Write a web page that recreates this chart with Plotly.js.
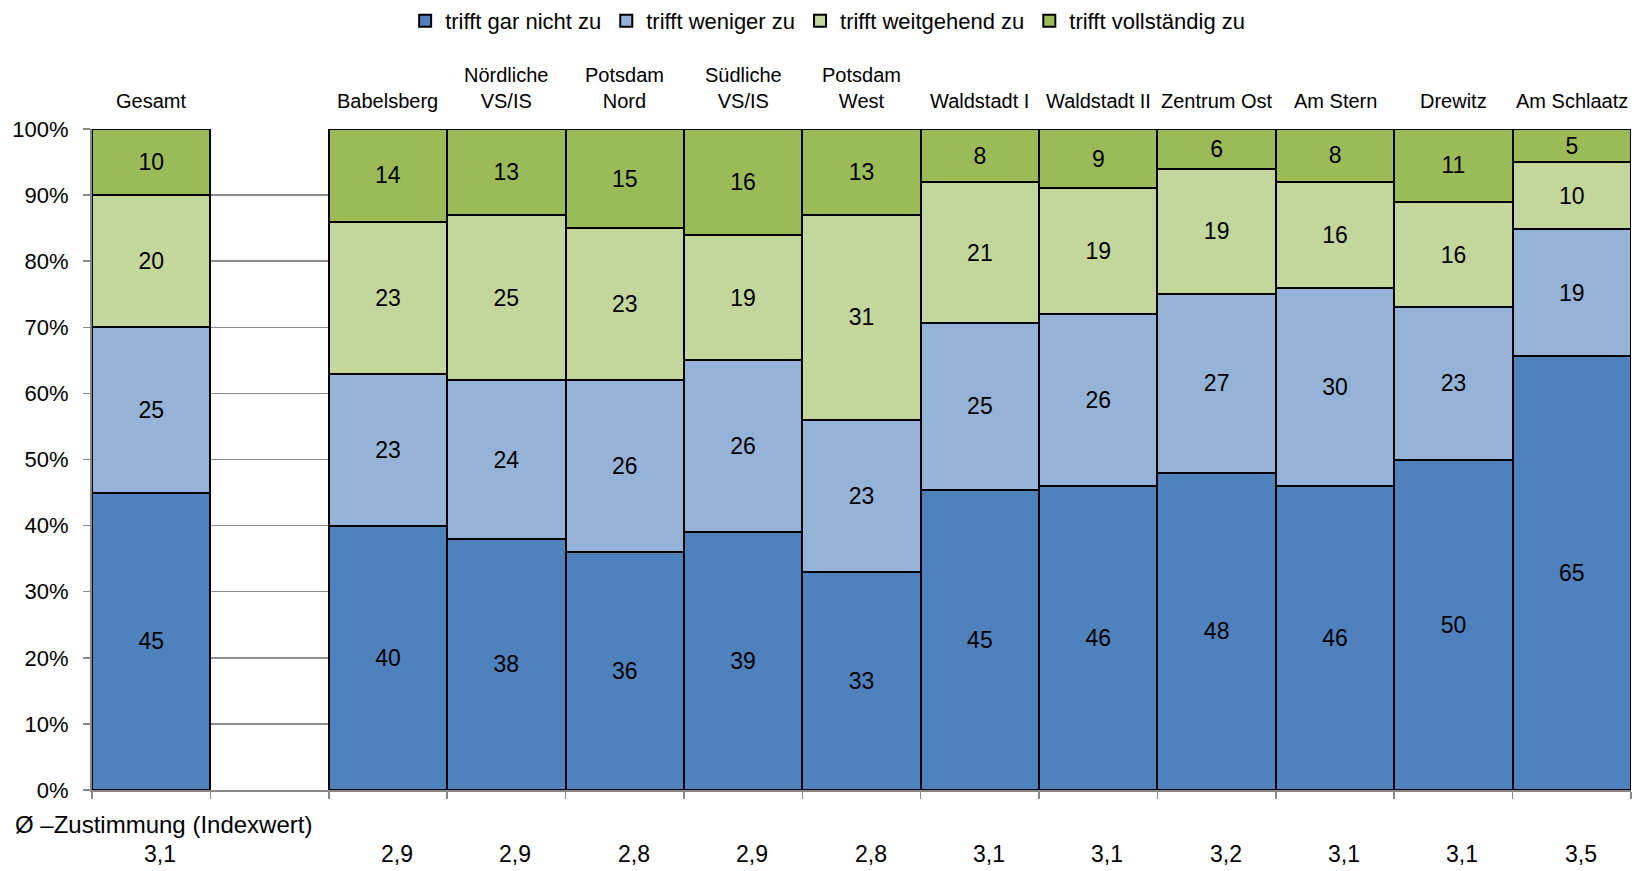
<!DOCTYPE html>
<html>
<head>
<meta charset="utf-8">
<script src="https://cdn.plot.ly/plotly-3.0.1.min.js"></script>
<style>
html,body{margin:0;padding:0;background:#fff;}
#chart{width:1643px;height:871px;}
</style>
</head>
<body>
<div id="chart"></div>
<script>
const categories = ["Gesamt", " ", "Babelsberg", "Nördliche<br>VS/IS", "Potsdam<br>Nord", "Südliche<br>VS/IS", "Potsdam<br>West", "Waldstadt I", "Waldstadt II", "Zentrum Ost", "Am Stern", "Drewitz", "Am Schlaatz"];
const seriesNames = ["trifft gar nicht zu", "trifft weniger zu", "trifft weitgehend zu", "trifft vollständig zu"];
const garNicht    = [45, null, 40, 38, 36, 39, 33, 45, 46, 48, 46, 50, 65];
const weniger     = [25, null, 23, 24, 26, 26, 23, 25, 26, 27, 30, 23, 19];
const weitgehend  = [20, null, 23, 25, 23, 19, 31, 21, 19, 19, 16, 16, 10];
const vollstaendig= [10, null, 14, 13, 15, 16, 13,  8,  9,  6,  8, 11,  5];
const indexValues = ["3,1", "", "2,9", "2,9", "2,8", "2,9", "2,8", "3,1", "3,1", "3,2", "3,1", "3,1", "3,5"];
const indexLabel = "Ø –Zustimmung (Indexwert)";
const colors = ["#4F81BD", "#95B3D7", "#C3D69B", "#9BBB59"];

const FONT = "'Liberation Sans Narrow', 'Arial Narrow', 'Liberation Sans', Arial, sans-serif";
const allSeries = [garNicht, weniger, weitgehend, vollstaendig];

const traces = allSeries.map((vals, i) => ({
  type: "bar",
  name: seriesNames[i],
  x: categories,
  y: vals,
  text: vals.map(v => v === null ? "" : String(v)),
  textposition: "inside",
  insidetextanchor: "middle",
  constraintext: "none",
  textangle: 0,
  textfont: {family: FONT, size: 23, color: "#000"},
  marker: {color: colors[i], line: {color: "#000", width: 2}},
  hoverinfo: "skip"
}));

const annotations = [];
categories.forEach((c, i) => {
  if (c.trim() !== "") {
    annotations.push({
      x: c, xref: "x", y: 1, yref: "paper", yanchor: "bottom", yshift: 15,
      text: c, showarrow: false, align: "center",
      font: {family: FONT, size: 20, color: "#000"}
    });
  }
  if (indexValues[i] !== "") {
    annotations.push({
      x: c, xref: "x", y: 0, yref: "paper", yanchor: "middle", yshift: -64, xshift: 9,
      text: indexValues[i], showarrow: false,
      font: {family: FONT, size: 23, color: "#000"}
    });
  }
});
annotations.push({
  x: 0, xref: "paper", xanchor: "left", xshift: -79, y: 0, yref: "paper", yanchor: "middle", yshift: -34,
  text: indexLabel, showarrow: false,
  font: {family: FONT, size: 24, color: "#000"}
});

const layout = {
  width: 1643, height: 871,
  margin: {l: 92, r: 12, t: 129, b: 81},
  paper_bgcolor: "#fff", plot_bgcolor: "#fff",
  barmode: "stack", barnorm: "percent", bargap: 0,
  font: {family: FONT, size: 22, color: "#000"},
  showlegend: true,
  legend: {orientation: "h", x: 0.478, xanchor: "center", y: 1, yref: "container", yanchor: "top",
           font: {family: FONT, size: 22, color: "#000"}, traceorder: "normal", itemwidth: 30},
  xaxis: {type: "category", categoryorder: "array", categoryarray: categories,
          showticklabels: false, ticks: "outside", tickson: "boundaries", ticklen: 7, tickcolor: "#888", tickwidth: 1.5,
          showline: true, linecolor: "#888", linewidth: 2, showgrid: false, zeroline: false, fixedrange: true},
  yaxis: {range: [0, 100], dtick: 10, ticksuffix: "%", ticks: "outside", ticklen: 7, tickcolor: "#888", tickwidth: 1.5,
          ticklabelstandoff: 10,
          showline: true, linecolor: "#888", linewidth: 2, showgrid: true, gridcolor: "#8c8c8c", gridwidth: 1.5,
          zeroline: false, tickfont: {family: FONT, size: 22, color: "#000"}, fixedrange: true},
  annotations: annotations
};

Plotly.newPlot("chart", traces, layout, {displayModeBar: false, staticPlot: true});
</script>
</body>
</html>
